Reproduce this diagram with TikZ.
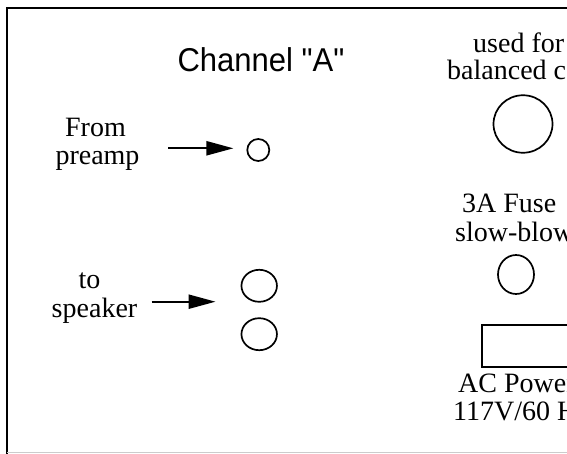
\documentclass[tikz,border=0pt]{standalone}
\usepackage{fontspec}
\setmainfont{Liberation Serif}
\newfontfamily\chanfont{Liberation Sans}
\usetikzlibrary{arrows.meta,shapes.geometric}
\begin{document}
\begin{tikzpicture}[x=1pt,y=-1pt,
  lbl/.style={font=\fontsize{28}{28}\selectfont, inner sep=0pt, anchor=base},
  lbll/.style={lbl, anchor=base west},
  jack/.style={draw, line width=1.7pt, ellipse, inner sep=0pt},
  arr/.style={line width=2.2pt, -{Triangle[length=27pt,width=14pt]}}]
\useasboundingbox (0,0) rectangle (567,454);
\clip (0,0) rectangle (567,454);
% frame
\draw[line width=2pt] (7,470) -- (7,8.3) -- (600,8.3);
\draw[black!20, line width=1pt] (7,452.8) -- (567,452.8);
% title
\node[font=\chanfont\fontsize{33}{33}\selectfont, inner sep=0pt, anchor=base, xscale=0.94] (chan) at (261,71.7) {Channel "A"};
% left labels
\node[lbl] (from) at (95.5,136.7) {From};
\node[lbl] (preamp) at (97.5,164.5) {preamp};
\node[lbl] (to) at (89.5,288.3) {to};
\node[lbl] (speaker) at (94.5,317.7) {speaker};
% jacks
\node[jack, minimum width=22pt, minimum height=22pt] (jin) at (258.3,150) {};
\node[jack, minimum width=35.5pt, minimum height=32pt] (spk1) at (259.2,285.8) {};
\node[jack, minimum width=35.5pt, minimum height=32pt] (spk2) at (259.2,334.2) {};
% arrows
\coordinate (a1) at (168.3,148.3);
\coordinate (a2) at (151.7,301.7);
\draw[arr, shorten >=13pt] (a1) -- (a1 -| jin.west);
\draw[arr, shorten >=25pt] (a2) -- (a2 -| spk1.west);
% right side
\node[lbll] (used) at (473,53) {used for};
\node[lbll] (bal) at (447,80) {balanced c};
\node[jack, minimum width=59pt, minimum height=57.5pt] (jbal) at (523,124) {};
\node[lbll] (fusel) at (462,213) {3A Fuse};
\node[lbll] (slow) at (455,242) {slow-blow};
\node[jack, minimum width=36pt, minimum height=39pt] (fuse) at (516,274.5) {};
\node[draw, line width=2.2pt, minimum width=130pt, minimum height=42pt, anchor=north west, inner sep=0pt] (acin) at (481,324) {};
\node[lbll] (acp) at (458,392) {AC Power};
\node[lbll] (volt) at (453,420) {117V/60 Hz};
\end{tikzpicture}
\end{document}
